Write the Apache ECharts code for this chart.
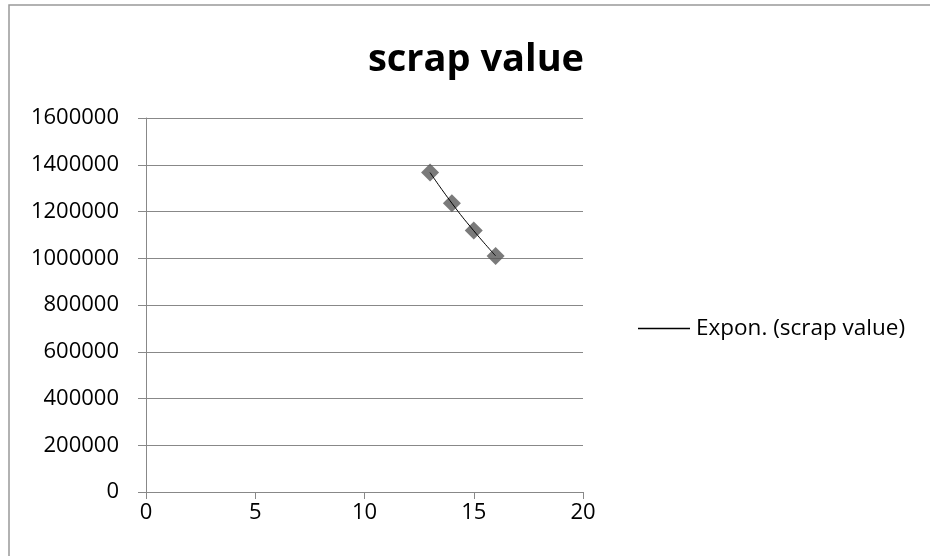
<!DOCTYPE html>
<html>
<head>
<meta charset="utf-8">
<script src="https://cdn.jsdelivr.net/npm/echarts@6/dist/echarts.min.js"></script>
<style>html,body{margin:0;padding:0;background:#fff}#c{width:930px;height:556px}</style>
</head>
<body>
<div id="c"></div>
<script>
var years = [13, 14, 15, 16];
var scrapValues = [1366600, 1235500, 1118200, 1009850];
var trendValues = [1366500, 1235400, 1117600, 1010300];
var titleText = 'scrap value';
var trendName = 'Expon. (scrap value)';

var chart = echarts.init(document.getElementById('c'));
var font = 'Open Sans, Liberation Sans, sans-serif';
chart.setOption({
  animation: false,
  backgroundColor: '#fff',
  title: {
    text: titleText, left: 471, top: 36, textAlign: 'center',
    textStyle: {fontFamily: font, fontSize: 38, fontWeight: 'bold', color: '#000'}
  },
  legend: {
    data: [{name: trendName, icon: 'rect', itemStyle: {color: '#000'}}],
    left: 633, top: 312, itemWidth: 52, itemHeight: 1.5,
    textStyle: {fontFamily: font, fontSize: 22.5, color: '#000', padding: [0, 0, 0, 1]}
  },
  grid: {left: 146, right: 347, top: 118, bottom: 64},
  xAxis: {
    type: 'value', min: 0, max: 20, interval: 5,
    axisLine: {show: true, lineStyle: {color: '#888'}},
    axisTick: {show: true, length: 7, inside: false, lineStyle: {color: '#888'}},
    splitLine: {show: false},
    axisLabel: {fontFamily: font, fontSize: 22, color: '#000', margin: 10}
  },
  yAxis: {
    type: 'value', min: 0, max: 1600000, interval: 200000,
    axisLine: {show: true, lineStyle: {color: '#888'}},
    axisTick: {show: true, length: 8, lineStyle: {color: '#888'}},
    splitLine: {show: true, lineStyle: {color: '#888'}},
    axisLabel: {fontFamily: font, fontSize: 22, color: '#000', margin: 27,
      formatter: function (v) { return String(v); }}
  },
  graphic: [{
    type: 'rect', shape: {x: 9, y: 5, width: 960, height: 600},
    style: {fill: 'none', stroke: '#999', lineWidth: 1.5}, silent: true, z: -10
  }],
  series: [{
    name: 'scrap value', type: 'scatter',
    data: years.map(function (x, i) { return [x, scrapValues[i]]; }),
    symbol: 'diamond', symbolSize: 18,
    itemStyle: {color: '#595959'}, z: 2
  }, {
    name: trendName, type: 'line', smooth: true,
    data: years.map(function (x, i) { return [x, trendValues[i]]; }),
    showSymbol: false, symbol: 'none',
    lineStyle: {color: '#000', width: 1}, itemStyle: {color: '#000'}, z: 3
  }]
});
</script>
</body>
</html>
